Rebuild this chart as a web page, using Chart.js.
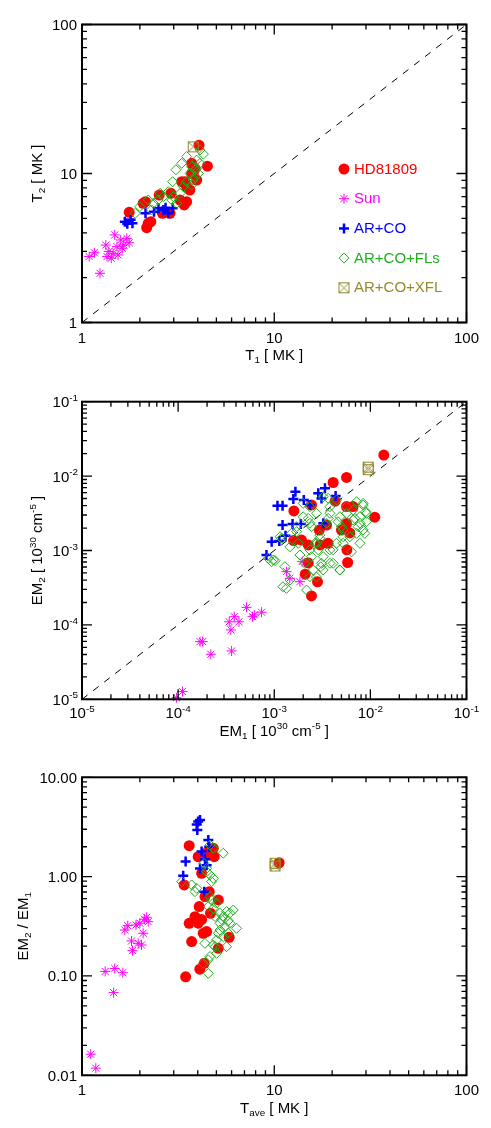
<!DOCTYPE html>
<html>
<head>
<meta charset="utf-8">
<title>HD81809 vs Sun</title>
<script src="https://cdn.jsdelivr.net/npm/chart.js@4.4.1/dist/chart.umd.min.js"></script>
<style>
  body { margin: 0; background: #fff; }
  canvas { display: block; }
</style>
</head>
<body>
<canvas id="p1" width="491" height="370"></canvas>
<canvas id="p2" width="491" height="390"></canvas>
<canvas id="p3" width="491" height="368"></canvas>
<script>
// series names (legend order)
const seriesNames = ['HD81809', 'Sun', 'AR+CO', 'AR+CO+FLs', 'AR+CO+XFL'];

// Panel 1: T1 vs T2 [MK]
const hdT1 = [1.76, 2.14, 2.17, 2.28, 2.52, 2.62, 2.90, 2.87, 3.23, 3.40, 3.43, 3.64, 3.79, 3.72, 4.06, 4.49, 2.08, 3.30, 3.50, 3.72, 3.87, 3.95, 2.21, 3.50];
const hdT2 = [5.49, 6.47, 4.33, 4.75, 7.17, 5.41, 7.36, 5.41, 6.64, 6.15, 8.81, 7.75, 10.0, 11.7, 15.5, 11.2, 6.31, 8.81, 8.16, 10.0, 10.8, 9.04, 4.63, 6.47];
const sunT1 = [1.09, 1.16, 1.24, 1.33, 1.35, 1.42, 1.48, 1.52, 1.54, 1.59, 1.65, 1.71, 1.76, 1.45, 1.62, 1.38];
const sunT2 = [2.77, 2.94, 2.14, 3.31, 2.77, 2.70, 3.87, 3.23, 2.84, 3.58, 3.31, 3.67, 3.43, 2.91, 3.15, 3.00];
const arT1 = [1.67, 1.72, 1.79, 1.83, 2.14, 2.37, 2.50, 2.65, 2.81, 2.96, 2.72];
const arT2 = [4.75, 4.60, 4.90, 4.63, 5.41, 5.53, 5.84, 5.69, 5.41, 5.84, 5.90];
const flT1 = [1.89, 2.00, 2.21, 2.35, 2.65, 2.81, 2.99, 3.08, 2.96, 3.30, 3.50, 3.72, 4.11, 4.28, 3.95, 3.65, 3.50, 3.37, 3.24, 3.87, 3.72, 3.95, 4.11, 3.87, 4.03, 3.79, 2.49, 2.93, 3.11, 2.55, 2.30];
const flT2 = [5.40, 5.99, 6.64, 6.31, 6.99, 7.55, 6.99, 10.6, 8.81, 11.7, 13.0, 11.1, 14.4, 13.5, 12.3, 10.0, 8.81, 8.16, 7.36, 9.52, 8.37, 10.8, 11.7, 10.6, 10.0, 9.04, 6.64, 6.64, 6.31, 7.37, 5.70];
const xflT1 = [3.79];
const xflT2 = [15.1];

// Panel 2: EM1 vs EM2 [10^30 cm^-5]
const hdEM1 = [0.0138, 0.00565, 0.0041, 0.0111, 0.0016, 0.00244, 0.0043, 0.00159, 0.00192, 0.00226, 0.00294, 0.0035, 0.00363, 0.0030, 0.00565, 0.0066, 0.00565, 0.0050, 0.0061, 0.0057, 0.0058, 0.00226, 0.0021, 0.00282, 0.00244];
const hdEM2 = [0.0192, 0.0096, 0.0082, 0.0028, 0.0034, 0.0041, 0.0046, 0.00136, 0.00138, 0.00119, 0.00188, 0.0022, 0.00125, 0.00119, 0.0039, 0.0039, 0.0023, 0.00188, 0.00172, 0.00102, 0.00069, 0.00068, 0.00048, 0.00038, 0.000245];
const sunEM1 = [9.6e-5, 1.11e-4, 1.69e-4, 1.8e-4, 2.19e-4, 3.6e-4, 3.54e-4, 3.4e-4, 3.84e-4, 4.3e-4, 5.15e-4, 5.95e-4, 6.2e-4, 7.38e-4, 1.34e-3, 1.45e-3, 1.85e-3, 1.95e-3];
const sunEM2 = [1.05e-5, 1.27e-5, 5.96e-5, 5.96e-5, 4.03e-5, 4.46e-5, 8.55e-5, 1.1e-4, 1.29e-4, 1.1e-4, 1.72e-4, 1.29e-4, 1.36e-4, 1.48e-4, 5.2e-4, 4.23e-4, 3.81e-4, 7.08e-4];
const arEM1 = [8.3e-4, 9.4e-4, 1.13e-3, 1.31e-3, 1.22e-3, 1.55e-3, 1.89e-3, 1.08e-3, 1.22e-3, 1.58e-3, 1.66e-3, 2.03e-3, 2.35e-3, 2.87e-3, 3.1e-3, 3.37e-3, 4.35e-3, 3.24e-3];
const arEM2 = [8.7e-4, 1.31e-3, 1.34e-3, 1.58e-3, 2.2e-3, 2.27e-3, 2.27e-3, 4.0e-3, 4.0e-3, 4.92e-3, 6.18e-3, 4.78e-3, 4.08e-3, 5.86e-3, 5.0e-3, 6.84e-3, 5.4e-3, 2.32e-3];
const flEM1 = [8.67e-4, 9.38e-4, 1.02e-3, 1.19e-3, 1.29e-3, 1.34e-3, 1.51e-3, 1.71e-3, 1.78e-3, 1.85e-3, 2.08e-3, 2.26e-3, 2.44e-3, 2.65e-3, 2.75e-3, 2.98e-3, 3.10e-3, 3.23e-3, 3.64e-3, 3.79e-3, 3.79e-3, 4.1e-3, 4.44e-3, 4.82e-3, 5.01e-3, 5.65e-3, 6.12e-3, 6.37e-3, 6.63e-3, 6.9e-3, 7.47e-3, 7.78e-3, 8.42e-3, 8.76e-3, 8.98e-3, 9.12e-3, 7.18e-3, 4.82e-3, 5.21e-3, 3.64e-3, 2.98e-3, 2.55e-3, 2.87e-3, 4.6e-3, 2.44e-3,
    2.0e-3, 2.35e-3, 3.23e-3, 4.45e-3, 5.65e-3, 8.4e-3, 9.1e-3, 7.8e-3, 8.4e-3, 3.8e-3, 3.5e-3, 2.35e-3, 2.0e-3, 1.71e-3, 1.46e-3, 1.15e-3, 9.8e-4, 2.75e-3, 3.23e-3, 3.05e-3, 3.8e-3, 4.8e-3, 4.1e-3, 5.2e-3, 7.8e-3, 7.18e-3, 5.2e-3, 2.35e-3, 2.35e-3, 1.46e-3, 1.23e-3, 2.17e-3, 6.62e-3, 2.75e-3];
const flEM2 = [7.85e-4, 7.08e-4, 7.3e-4, 1.46e-3, 6.07e-4, 3.1e-4, 1.70e-3, 1.79e-3, 1.25e-3, 8.7e-4, 6.73e-4, 2.70e-3, 8.26e-4, 1.25e-3, 3.16e-3, 1.46e-3, 6.73e-4, 5.47e-4, 5.02e-3, 3.88e-3, 1.02e-3, 6.73e-4, 1.25e-3, 5.47e-4, 2.09e-3, 3.16e-3, 1.53e-3, 9.6e-4, 3.5e-3, 2.7e-3, 2.09e-3, 2.85e-3, 4.08e-3, 1.7e-3, 3.33e-3, 2.44e-3, 4.53e-3, 2.85e-3, 1.53e-3, 2.7e-3, 1.61e-3, 5.47e-4, 1.02e-3, 2.44e-3, 2.09e-3,
    4.3e-3, 3.88e-3, 5.28e-3, 4.78e-3, 3.88e-3, 4.3e-3, 3.16e-3, 2.32e-3, 1.89e-3, 3.16e-3, 2.32e-3, 2.32e-3, 2.84e-3, 2.09e-3, 1.12e-3, 1.53e-3, 7.45e-4, 1.25e-3, 8.27e-4, 6.05e-4, 6.73e-4, 5.47e-4, 1.02e-3, 1.25e-3, 1.25e-3, 1.7e-3, 1.89e-3, 1.02e-3, 4.45e-4, 4.0e-4, 3.26e-4, 2.94e-4, 2.57e-3, 4.4e-4];
const xflEM1 = [9.5e-3, 9.5e-3];
const xflEM2 = [0.0132, 0.0122];

// Panel 3: Tave [MK] vs EM2/EM1
const hdTave = [10.6, 3.40, 3.61, 3.46, 4.02, 4.19, 4.41, 4.82, 4.87, 3.72, 3.61, 3.87, 4.07, 4.19, 4.27, 4.32, 4.10, 4.36, 4.59, 4.66, 5.12, 5.12, 5.83, 4.45, 4.02];
const hdRatio = [1.38, 0.824, 2.05, 0.098, 1.59, 1.08, 1.72, 1.93, 1.59, 0.222, 0.339, 0.395, 0.499, 0.37, 0.269, 0.134, 0.117, 0.63, 0.706, 0.428, 0.582, 0.19, 0.245, 0.28, 0.34];
const sunTave = [1.11, 1.18, 1.32, 1.48, 1.63, 1.46, 1.67, 1.73, 1.81, 1.83, 1.91, 1.96, 2.00, 2.04, 2.08, 2.11, 2.21, 2.17];
const sunRatio = [0.0163, 0.0118, 0.111, 0.119, 0.108, 0.068, 0.29, 0.321, 0.225, 0.18, 0.326, 0.213, 0.34, 0.205, 0.269, 0.372, 0.352, 0.39];
const arTave = [3.36, 3.46, 4.02, 3.95, 3.98, 4.11, 4.11, 4.19, 4.36, 4.54, 4.59, 4.45, 4.32];
const arRatio = [1.02, 1.42, 3.58, 3.35, 2.95, 3.72, 1.21, 1.79, 1.50, 2.34, 2.00, 1.30, 0.706];
const flTave = [3.30, 3.72, 3.95, 3.87, 4.31, 4.45, 4.63, 4.72, 4.82, 5.43, 4.63, 4.82, 4.54, 4.82, 5.01, 5.22, 5.43, 5.65, 5.88, 6.12, 6.37, 5.22, 5.54, 5.88, 5.12, 5.43, 5.76, 4.92, 5.01, 4.63, 4.54, 4.36, 4.82, 4.54, 4.28, 4.63, 4.92, 5.22, 5.65, 4.45, 5.33, 5.76, 5.01, 4.72];
const flRatio = [0.89, 0.824, 0.763, 0.706, 1.36, 1.21, 1.04, 0.89, 0.96, 1.72, 2.08, 1.93, 0.50, 0.48, 0.54, 0.428, 0.396, 0.445, 0.428, 0.461, 0.302, 0.339, 0.314, 0.339, 0.269, 0.249, 0.269, 0.197, 0.169, 0.157, 0.145, 0.213, 0.205, 0.106, 0.134, 0.63, 0.396, 0.29, 0.197, 1.12, 0.37, 0.36, 0.23, 0.58];
const xflTave = [10.1, 10.1];
const xflRatio = [1.28, 1.36];

// axis ticks and labels
const tempTicks = [1, 10, 100];
const tempLabels = ['1', '10', '100'];
const emTicks = [1e-5, 1e-4, 1e-3, 1e-2, 1e-1];
const emExps = ['-5', '-4', '-3', '-2', '-1'];
const ratioTicks = [0.01, 0.1, 1, 10];
const ratioLabels = ['0.01', '0.10', '1.00', '10.00'];

const FONT = '"Liberation Sans", Arial, Helvetica, sans-serif';
const FS = 15;

// square with an X inside, for AR+CO+XFL
function boxCross(color) {
    const c = document.createElement('canvas');
    c.width = 13; c.height = 13;
    const g = c.getContext('2d');
    g.strokeStyle = color;
    g.lineWidth = 1;
    g.strokeRect(1.5, 1.5, 10, 10);
    g.beginPath();
    g.moveTo(1.5, 1.5); g.lineTo(11.5, 11.5);
    g.moveTo(11.5, 1.5); g.lineTo(1.5, 11.5);
    g.stroke();
    return c;
}

const styles = [
    { color: '#ff0000', pointStyle: 'circle', pointRadius: 5.5, backgroundColor: '#ff0000', borderColor: '#ff0000', borderWidth: 0 },
    { color: '#ff00ff', pointStyle: 'star', pointRadius: 5, backgroundColor: 'transparent', borderColor: '#ff00ff', borderWidth: 1 },
    { color: '#0000ff', pointStyle: 'cross', pointRadius: 5, backgroundColor: 'transparent', borderColor: '#0000ff', borderWidth: 2.5 },
    { color: '#1faf1f', pointStyle: 'rectRot', pointRadius: 5, backgroundColor: 'transparent', borderColor: '#1faf1f', borderWidth: 1 },
    { color: '#938a2c', pointStyle: boxCross('#938a2c'), pointRadius: 6, backgroundColor: 'transparent', borderColor: '#938a2c', borderWidth: 1 }
];

function pts(xs, ys) {
    return xs.map((x, i) => ({ x: x, y: ys[i] }));
}

function makeSets(pairs) {
    // lower order ends up on top: red at the bottom, XFL on top
    return pairs.map((p, i) => ({
        label: seriesNames[i],
        data: pts(p[0], p[1]),
        pointStyle: styles[i].pointStyle,
        pointRadius: styles[i].pointRadius,
        pointBackgroundColor: styles[i].backgroundColor,
        pointBorderColor: styles[i].borderColor,
        pointBorderWidth: styles[i].borderWidth,
        showLine: false,
        clip: false,
        order: 5 - i
    }));
}

function diagonal(lo, hi) {
    return {
        type: 'line',
        data: [{ x: lo, y: lo }, { x: hi, y: hi }],
        borderColor: '#000',
        borderWidth: 1,
        borderDash: [7, 7],
        pointRadius: 0,
        order: 10
    };
}

// text with sub/superscripts: parts = [[text, 0 | 1 (sup) | -1 (sub)], ...]
function drawRich(ctx, parts, x, y, align) {
    const small = FS * 0.66;
    let w = 0;
    parts.forEach(p => {
        ctx.font = (p[1] ? small : FS) + 'px ' + FONT;
        w += ctx.measureText(p[0]).width;
    });
    let cx = align === 'center' ? x - w / 2 : align === 'right' ? x - w : x;
    ctx.textAlign = 'left';
    ctx.textBaseline = 'alphabetic';
    parts.forEach(p => {
        ctx.font = (p[1] ? small : FS) + 'px ' + FONT;
        const dy = p[1] === 1 ? -FS * 0.42 : p[1] === -1 ? FS * 0.2 : 0;
        ctx.fillText(p[0], cx, y + dy);
        cx += ctx.measureText(p[0]).width;
    });
}

function logTicks(min, max) {
    const out = [];
    for (let d = Math.round(Math.log10(min)); Math.pow(10, d) <= max * 1.0001; d++) {
        const base = Math.pow(10, d);
        out.push([base, true]);
        for (let k = 2; k <= 9; k++) {
            if (k * base < max) out.push([k * base, false]);
        }
    }
    return out;
}

const plain = s => [[s, 0]];
const pow10 = e => [['10', 0], [e, 1]];

// per panel axis decoration
const axisCfg = {
    p1: {
        xTicks: tempTicks, xLabels: tempLabels.map(plain),
        yTicks: tempTicks, yLabels: tempLabels.map(plain),
        xLabelY: 343, yLabelX: 77, xTitleY: 360, yTitleX: 42,
        xTitle: [['T', 0], ['1', -1], [' [ MK ]', 0]],
        yTitle: [['T', 0], ['2', -1], [' [ MK ]', 0]]
    },
    p2: {
        xTicks: emTicks, xLabels: emExps.map(pow10),
        yTicks: emTicks, yLabels: emExps.map(pow10),
        xLabelY: 348, yLabelX: 78, xTitleY: 365.5, yTitleX: 42,
        xTitle: [['EM', 0], ['1', -1], [' [ 10', 0], ['30', 1], [' cm', 0], ['-5', 1], [' ]', 0]],
        yTitle: [['EM', 0], ['2', -1], [' [ 10', 0], ['30', 1], [' cm', 0], ['-5', 1], [' ]', 0]]
    },
    p3: {
        xTicks: tempTicks, xLabels: tempLabels.map(plain),
        yTicks: ratioTicks, yLabels: ratioLabels.map(plain),
        xLabelY: 335, yLabelX: 77, xTitleY: 352.7, yTitleX: 28,
        xTitle: [['T', 0], ['ave', -1], [' [ MK ]', 0]],
        yTitle: [['EM', 0], ['2', -1], [' / EM', 0], ['1', -1]]
    }
};

// IDL style box: inward ticks on all four sides + labels
const axisPlugin = {
    id: 'idlAxes',
    afterDatasetsDraw(chart) {
        const o = axisCfg[chart.canvas.id];
        const ctx = chart.ctx, a = chart.chartArea;
        const xs = chart.scales.x, ys = chart.scales.y;
        ctx.save();
        ctx.strokeStyle = '#000';
        ctx.lineWidth = 1.3;
        ctx.beginPath();
        logTicks(xs.min, xs.max).forEach(([v, major]) => {
            const p = xs.getPixelForValue(v), L = major ? 10 : 5;
            ctx.moveTo(p, a.bottom); ctx.lineTo(p, a.bottom - L);
            ctx.moveTo(p, a.top); ctx.lineTo(p, a.top + L);
        });
        logTicks(ys.min, ys.max).forEach(([v, major]) => {
            const p = ys.getPixelForValue(v), L = major ? 10 : 5;
            ctx.moveTo(a.left, p); ctx.lineTo(a.left + L, p);
            ctx.moveTo(a.right, p); ctx.lineTo(a.right - L, p);
        });
        ctx.stroke();
        ctx.lineWidth = 2;
        ctx.strokeRect(a.left, a.top, a.right - a.left, a.bottom - a.top);

        ctx.fillStyle = '#000';
        o.xTicks.forEach((v, i) => drawRich(ctx, o.xLabels[i], xs.getPixelForValue(v), o.xLabelY, 'center'));
        o.yTicks.forEach((v, i) => drawRich(ctx, o.yLabels[i], o.yLabelX, ys.getPixelForValue(v) + 5.4, 'right'));
        drawRich(ctx, o.xTitle, (a.left + a.right) / 2, o.xTitleY, 'center');
        ctx.translate(o.yTitleX, (a.top + a.bottom) / 2);
        ctx.rotate(-Math.PI / 2);
        drawRich(ctx, o.yTitle, 0, 0, 'center');
        ctx.restore();
    }
};

// legend inside the first panel
const legendPlugin = {
    id: 'innerLegend',
    afterDatasetsDraw(chart) {
        const ctx = chart.ctx;
        ctx.save();
        seriesNames.forEach((name, i) => {
            const y = 169 + i * 29.7;
            const s = styles[i];
            ctx.fillStyle = s.backgroundColor;
            ctx.strokeStyle = s.borderColor;
            ctx.lineWidth = s.borderWidth;
            Chart.helpers.drawPoint(ctx, { pointStyle: s.pointStyle, radius: s.pointRadius, rotation: 0, borderWidth: s.borderWidth }, 344, y);
            ctx.fillStyle = s.color;
            ctx.font = FS + 'px ' + FONT;
            ctx.textAlign = 'left';
            ctx.textBaseline = 'middle';
            ctx.fillText(name, 354, y + 0.5);
        });
        ctx.restore();
    }
};

function makeChart(id, pairs, xr, yr, pad, diag, extra) {
    const sets = makeSets(pairs);
    if (diag) sets.push(diagonal(xr[0], xr[1]));
    return new Chart(document.getElementById(id), {
        type: 'scatter',
        data: { datasets: sets },
        options: {
            responsive: false,
            animation: false,
            layout: { padding: pad },
            scales: {
                x: { type: 'logarithmic', min: xr[0], max: xr[1], display: false },
                y: { type: 'logarithmic', min: yr[0], max: yr[1], display: false }
            },
            plugins: { legend: { display: false }, tooltip: { enabled: false } }
        },
        plugins: [axisPlugin].concat(extra || [])
    });
}

makeChart('p1',
    [[hdT1, hdT2], [sunT1, sunT2], [arT1, arT2], [flT1, flT2], [xflT1, xflT2]],
    [1, 100], [1, 100],
    { left: 82, right: 24.5, top: 24.5, bottom: 47.5 }, true, [legendPlugin]);

makeChart('p2',
    [[hdEM1, hdEM2], [sunEM1, sunEM2], [arEM1, arEM2], [flEM1, flEM2], [xflEM1, xflEM2]],
    [1e-5, 1e-1], [1e-5, 1e-1],
    { left: 82, right: 24.5, top: 31.7, bottom: 60.7 }, true);

makeChart('p3',
    [[hdTave, hdRatio], [sunTave, sunRatio], [arTave, arRatio], [flTave, flRatio], [xflTave, xflRatio]],
    [1, 100], [0.01, 10],
    { left: 82, right: 24.5, top: 17.3, bottom: 52.7 }, false);
</script>
</body>
</html>
